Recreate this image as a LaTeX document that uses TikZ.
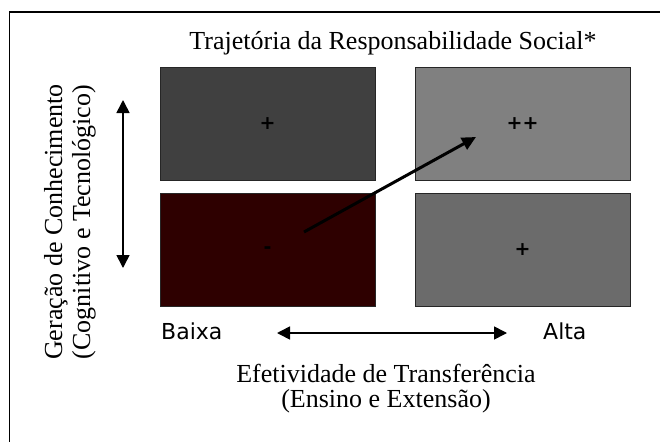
\documentclass[tikz,border=0pt]{standalone}
\usepackage{fontspec}
\setmainfont{Liberation Serif}
\newfontfamily\plussans{DejaVu Sans}
\usetikzlibrary{arrows.meta}
\definecolor{cTL}{HTML}{404040}
\definecolor{cTR}{HTML}{808080}
\definecolor{cBL}{HTML}{2E0000}
\definecolor{cBR}{HTML}{6B6B6B}
\tikzset{
  quad/.style={draw=black!85, line width=0.9pt, minimum width=215pt, minimum height=113pt, inner sep=0pt,
    font=\plussans\bfseries\fontsize{19}{19}\selectfont, text=black},
  sertext/.style={font=\fontsize{26}{30}\selectfont, inner sep=0pt},
  sanstext/.style={font=\plussans\fontsize{22}{24}\selectfont, inner sep=0pt},
  dblarrow/.style={line width=1.6pt, {Triangle[width=13pt,length=13pt]}-{Triangle[width=13pt,length=13pt]}},
  trajarrow/.style={line width=3pt, -{Triangle[width=13pt,length=14pt]}},
}
\begin{document}
\begin{tikzpicture}[x=1pt,y=-1pt]
\useasboundingbox (0,0) rectangle (660,441);
\fill[white] (0,0) rectangle (660,441);
% outer frame (right and bottom sides fall outside the picture)
\draw[line width=1.4pt] (9.5,445) -- (9.5,12) -- (665,12);
% title
\node[sertext, anchor=base] (title) at (393,50) {Trajetória da Responsabilidade Social*};
% quadrants
\node[quad, fill=cTL] (tl) at (267.5,123.5) {+};
\node[quad, fill=cTR] (tr) at (522.5,123.5) {++};
\node[quad, fill=cBL] (bl) at (267.5,250) {-};
\node[quad, fill=cBR] (br) at (522.5,250) {+};
% trajectory arrow
\coordinate (trajS) at (304,232);
\coordinate (trajE) at (476,137);
\draw[trajarrow] (trajS) -- (trajE);
% vertical axis
\coordinate (vTop) at (123,100);
\coordinate (vBot) at (123,268);
\draw[dblarrow] (vTop) -- (vBot);
\node[sertext, rotate=90, anchor=base] (ylab1) at (62,222) {Geração de Conhecimento};
\node[sertext, rotate=90, anchor=base] (ylab2) at (90,222) {(Cognitivo e Tecnológico)};
% horizontal axis
\node[sanstext, anchor=base west] (baixa) at (161,339) {Baixa};
\node[sanstext, anchor=base west] (alta) at (543,339) {Alta};
\coordinate (hL) at (277,333);
\coordinate (hR) at (507,333);
\draw[dblarrow] (hL) -- (hR);
\node[sertext, anchor=base] (xlab1) at (386,382) {Efetividade de Transferência};
\node[sertext, anchor=base] (xlab2) at (386,407) {(Ensino e Extensão)};
\end{tikzpicture}
\end{document}
